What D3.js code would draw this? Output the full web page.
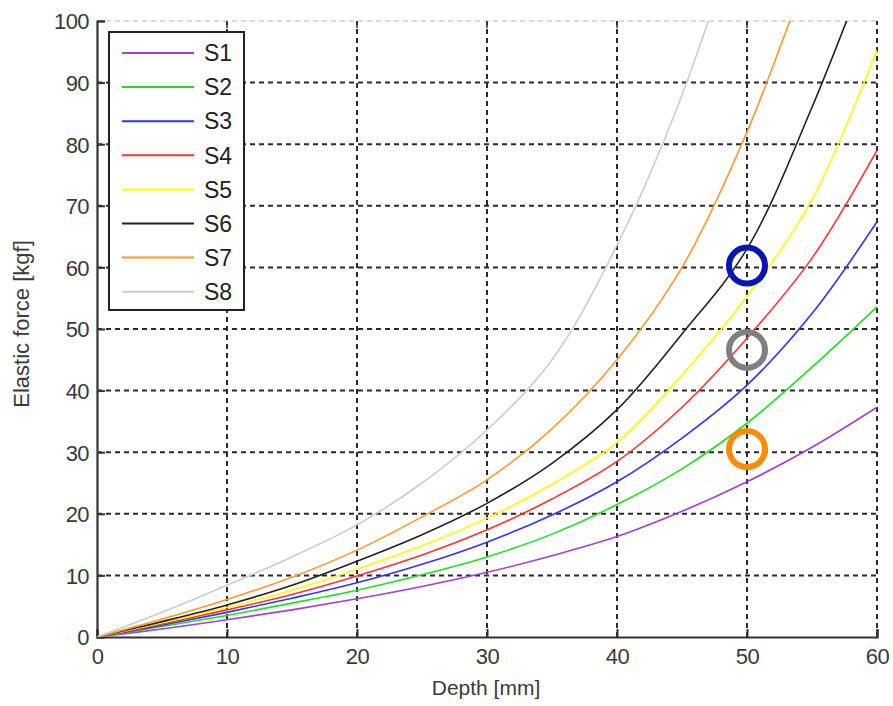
<!DOCTYPE html>
<html>
<head>
<meta charset="utf-8">
<script src="https://cdn.jsdelivr.net/npm/d3@7"></script>
<style>
  html, body { margin: 0; padding: 0; background: #fff; }
  svg { display: block; font-family: "Liberation Sans", Arial, sans-serif; }
</style>
</head>
<body>
<svg id="chart" width="893" height="706"></svg>
<script>
// ---- data ----
const depth = [0, 5, 10, 15, 20, 25, 30, 35, 40, 45, 50, 55, 60];
const S1 = [0, 1.3, 2.8, 4.4, 6.2, 8.2, 10.5, 13.2, 16.3, 20.4, 25.2, 30.8, 37.3];
const S2 = [0, 1.7, 3.5, 5.5, 7.6, 10.1, 13.0, 16.7, 21.5, 27.3, 34.7, 43.8, 53.6];
const S3 = [0, 1.9, 4.0, 6.3, 8.8, 11.8, 15.4, 19.8, 25.2, 32.3, 40.9, 52.5, 67.4];
const S4 = [0, 2.1, 4.4, 6.9, 9.9, 13.3, 17.4, 22.4, 28.5, 37.3, 48.5, 61.5, 79.0];
const S5 = [0, 2.3, 4.8, 7.6, 11.0, 14.8, 19.3, 24.8, 31.6, 42.5, 55.3, 71.0, 95.3];
const S6 = [0, 2.5, 5.2, 8.4, 12.3, 16.6, 21.7, 28.2, 36.9, 49.2, 63.0, 86.0, 113.0];
const S7 = [0, 2.9, 6.1, 9.7, 14.1, 19.5, 25.5, 33.8, 45.0, 60.0, 82.0, 110.0, 140.0];
const S8 = [0, 4.0, 8.4, 13.0, 18.2, 25.0, 33.6, 45.0, 63.6, 88.0, 120.0, 160.0, 200.0];
const seriesNames = ["S1", "S2", "S3", "S4", "S5", "S6", "S7", "S8"];
const seriesValues = [S1, S2, S3, S4, S5, S6, S7, S8];
const seriesColors = ["#a040d8", "#22dd22", "#3333ff", "#ff3333", "#ffff00", "#222222", "#ff9933", "#cccccc"];
const xTicks = [0, 10, 20, 30, 40, 50, 60];
const yTicks = [0, 10, 20, 30, 40, 50, 60, 70, 80, 90, 100];
const markerDepth = [50, 50, 50];
const markerForce = [60.3, 46.6, 30.5];
const markerColors = ["#0a14b4", "#808080", "#ff8c00"];
const xLabel = "Depth [mm]";
const yLabel = "Elastic force [kgf]";

// ---- layout ----
const L = 97, R = 877, T = 21, B = 637;
const svg = d3.select("#chart");
const x = d3.scaleLinear().domain([0, 60]).range([L, R]);
const y = d3.scaleLinear().domain([0, 100]).range([B, T]);

svg.append("defs").append("clipPath").attr("id", "plotclip")
  .append("rect").attr("x", L).attr("y", T).attr("width", R - L).attr("height", B - T);

// grid
const grid = svg.append("g");
grid.selectAll("line.vg").data(xTicks.filter(d => d > 0)).join("line")
  .attr("x1", d => x(d)).attr("x2", d => x(d)).attr("y1", y(0)).attr("y2", y(100))
  .attr("stroke", "#2a2a2a").attr("stroke-width", 2).attr("stroke-dasharray", "5,4");
grid.selectAll("line.hg").data(yTicks.filter(d => d > 0)).join("line")
  .attr("x1", x(0)).attr("x2", x(60)).attr("y1", d => y(d)).attr("y2", d => y(d))
  .attr("stroke", d => d === 100 ? "#d0d0d0" : "#2a2a2a").attr("stroke-width", d => d === 100 ? 1.5 : 2)
  .attr("stroke-dasharray", "5,4");

// axes
const xAxis = d3.axisBottom(x).tickValues(xTicks).tickSize(-8).tickPadding(10).tickFormat(d3.format("d"));
const yAxis = d3.axisLeft(y).tickValues(yTicks).tickSize(-8).tickPadding(8).tickFormat(d3.format("d"));
const gx = svg.append("g").attr("transform", `translate(0,${B})`).call(xAxis);
const gy = svg.append("g").attr("transform", `translate(${L},0)`).call(yAxis);
[gx, gy].forEach(g => {
  g.select(".domain").attr("stroke", "#333").attr("stroke-width", 2.2);
  g.selectAll(".tick line").attr("stroke", "#333").attr("stroke-width", 2);
  g.selectAll(".tick text").attr("fill", "#3a3a3a").attr("font-size", 22)
    .attr("font-family", "Liberation Sans, Arial, sans-serif").attr("letter-spacing", "-0.6");
});
gx.selectAll(".tick text").attr("dy", "0.75em");
gy.selectAll(".tick text").attr("dy", "0.36em");
// top ticks
svg.append("g").selectAll("line").data(xTicks.filter(d => d > 0 && d < 60)).join("line")
  .attr("x1", d => x(d)).attr("x2", d => x(d)).attr("y1", y(100)).attr("y2", y(100) + 7)
  .attr("stroke", "#333").attr("stroke-width", 1.5);

// axis labels
svg.append("text").attr("x", (L + R) / 2 - 1).attr("y", 695).attr("text-anchor", "middle")
  .attr("font-size", 21).attr("fill", "#3a3a3a").text(xLabel);
svg.append("text").attr("transform", `translate(29,324) rotate(-90)`).attr("text-anchor", "middle")
  .attr("font-size", 22).attr("fill", "#3a3a3a").text(yLabel);

// series lines
const line = d3.line().x((d, i) => x(depth[i])).y(d => y(d)).curve(d3.curveCatmullRom.alpha(0.5));
const plot = svg.append("g").attr("clip-path", "url(#plotclip)");
plot.selectAll("path").data(seriesValues).join("path")
  .attr("d", d => line(d)).attr("fill", "none")
  .attr("stroke", (d, i) => seriesColors[i]).attr("stroke-width", 1.6);

// markers
svg.append("g").selectAll("circle").data(markerDepth).join("circle")
  .attr("cx", d => x(d)).attr("cy", (d, i) => y(markerForce[i])).attr("r", 18)
  .attr("fill", "none").attr("stroke", (d, i) => markerColors[i]).attr("stroke-width", 6);

// legend
const lg = svg.append("g");
lg.append("rect").attr("x", 109).attr("y", 32).attr("width", 135).attr("height", 278)
  .attr("fill", "#fff").attr("stroke", "#222").attr("stroke-width", 2);
const items = lg.selectAll("g.item").data(seriesNames).join("g")
  .attr("transform", (d, i) => `translate(0,${53 + i * 34.1})`);
items.append("line").attr("x1", 122).attr("x2", 194).attr("y1", 0).attr("y2", 0)
  .attr("stroke", (d, i) => seriesColors[i]).attr("stroke-width", 2);
items.append("text").attr("x", 204).attr("y", 0).attr("dy", "0.36em")
  .attr("font-size", 23).attr("fill", "#222").text(d => d);
</script>
</body>
</html>
